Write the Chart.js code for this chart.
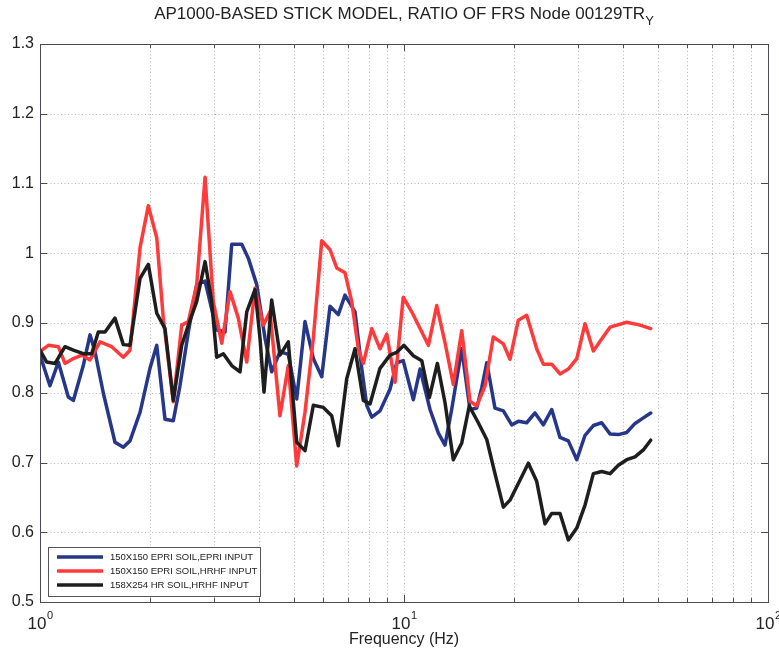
<!DOCTYPE html>
<html>
<head>
<meta charset="utf-8">
<script src="https://cdn.jsdelivr.net/npm/chart.js@4.4.1/dist/chart.umd.min.js"></script>
<style>
  html, body { margin: 0; padding: 0; background: #fff; }
  #wrap { width: 779px; height: 653px; }
</style>
</head>
<body>
<div id="wrap"><canvas id="frs" width="779" height="653"></canvas></div>
<script>
// Ratio of floor response spectra, node 00129, TR-Y direction
const seriesNames = [
  '150X150 EPRI SOIL,EPRI INPUT',
  '150X150 EPRI SOIL,HRHF INPUT',
  '158X254 HR SOIL,HRHF INPUT'
];

const freqEpri = [1.00,1.065,1.123,1.196,1.235,1.315,1.372,1.416,1.492,1.607,1.694,1.767,1.883,2.005,2.093,2.205,2.324,2.424,2.556,2.695,2.841,3.058,3.223,3.363,3.583,3.735,3.939,4.151,4.330,4.564,4.810,5.073,5.346,5.635,5.943,6.263,6.600,6.885,7.336,7.654,7.900,8.154,8.592,9.152,9.55,9.95,10.61,11.07,11.79,12.43,12.96,13.52,14.41,15.18,15.84,16.35,16.88,17.78,18.75,19.77,20.61,21.73,22.90,24.14,25.46,26.83,28.28,29.83,31.43,33.13,34.92,36.81,38.80,40.91,43.12,45.45,47.62];
const ratioEpri = [0.854,0.81,0.844,0.794,0.789,0.839,0.883,0.859,0.80,0.729,0.722,0.731,0.772,0.835,0.868,0.762,0.760,0.81,0.887,0.955,0.96,0.89,0.887,1.013,1.013,0.993,0.955,0.878,0.83,0.859,0.855,0.791,0.902,0.849,0.823,0.924,0.912,0.94,0.916,0.835,0.782,0.765,0.774,0.805,0.843,0.846,0.79,0.834,0.776,0.742,0.725,0.776,0.863,0.776,0.778,0.807,0.843,0.778,0.774,0.754,0.759,0.757,0.771,0.754,0.776,0.736,0.731,0.704,0.739,0.753,0.757,0.741,0.74,0.743,0.756,0.764,0.771];

const freqHrhf = [1.00,1.054,1.123,1.171,1.235,1.302,1.372,1.462,1.574,1.694,1.767,1.883,1.984,2.093,2.181,2.324,2.451,2.556,2.695,2.841,2.993,3.157,3.327,3.506,3.698,3.897,4.107,4.284,4.564,4.810,5.073,5.346,5.635,5.943,6.263,6.534,6.885,7.183,7.490,7.732,8.154,8.592,8.966,9.447,9.95,10.50,11.07,11.67,12.30,12.96,13.66,14.41,15.18,15.84,16.70,17.59,18.75,19.55,20.61,21.73,23.15,24.14,25.46,26.83,28.28,29.83,31.43,33.13,34.92,36.81,40.91,44.51,47.62];
const ratioHrhf = [0.859,0.868,0.866,0.842,0.849,0.854,0.847,0.873,0.866,0.851,0.861,1.008,1.068,1.022,0.907,0.787,0.897,0.902,0.955,1.109,0.93,0.871,0.945,0.907,0.844,0.95,0.897,0.916,0.767,0.839,0.695,0.772,0.878,1.018,1.005,0.979,0.972,0.931,0.863,0.842,0.892,0.863,0.884,0.815,0.937,0.916,0.892,0.868,0.925,0.872,0.812,0.889,0.788,0.781,0.81,0.88,0.87,0.848,0.904,0.911,0.863,0.841,0.841,0.827,0.834,0.849,0.899,0.86,0.877,0.894,0.901,0.897,0.892];

const freqHr = [1.00,1.043,1.100,1.171,1.235,1.315,1.387,1.446,1.509,1.607,1.694,1.767,1.883,1.984,2.093,2.205,2.324,2.451,2.556,2.695,2.841,2.962,3.058,3.189,3.363,3.544,3.698,3.897,4.022,4.125,4.330,4.564,4.810,5.073,5.346,5.635,6.003,6.331,6.600,6.960,7.336,7.732,8.066,8.592,9.152,9.55,10.0,10.61,11.19,11.74,12.35,12.96,13.66,14.41,15.11,16.00,16.88,17.78,18.75,19.55,20.61,21.96,23.15,24.40,25.46,26.83,28.28,29.83,31.43,33.13,34.92,36.81,38.80,40.91,43.12,45.45,47.62];
const ratioHr = [0.861,0.844,0.842,0.866,0.861,0.856,0.856,0.887,0.887,0.907,0.869,0.868,0.964,0.984,0.914,0.892,0.789,0.868,0.897,0.931,0.988,0.931,0.851,0.856,0.839,0.83,0.916,0.948,0.878,0.801,0.933,0.854,0.873,0.729,0.717,0.782,0.779,0.767,0.724,0.82,0.863,0.789,0.784,0.835,0.854,0.858,0.868,0.853,0.846,0.793,0.842,0.786,0.704,0.728,0.781,0.757,0.733,0.684,0.636,0.646,0.67,0.699,0.673,0.612,0.627,0.627,0.589,0.606,0.639,0.684,0.687,0.684,0.696,0.704,0.708,0.718,0.732];

const yTickValues = [0.5, 0.6, 0.7, 0.8, 0.9, 1.0, 1.1, 1.2, 1.3];
const xGridValues = [1,2,3,4,5,6,7,8,9,10,20,30,40,50,60,70,80,90,100];
const xDecadeExponents = [0, 1, 2];

const colors = ['#26378a', '#ff3a3a', '#1e1e1e'];

function pts(xs, ys) { return xs.map((x, i) => ({ x: x, y: ys[i] })); }

const FONT = "'Liberation Sans', Arial, Helvetica, sans-serif";
const INK = '#222';

const decorPlugin = {
  id: 'frsDecor',
  beforeDraw(chart) {
    const ctx = chart.ctx;
    ctx.save();
    ctx.fillStyle = '#fff';
    ctx.fillRect(0, 0, chart.width, chart.height);
    ctx.restore();
  },
  beforeDatasetsDraw(chart) {
    const ctx = chart.ctx, a = chart.chartArea;
    const xs = chart.scales.x, ys = chart.scales.y;
    ctx.save();
    ctx.strokeStyle = '#b9b9b9';
    ctx.lineWidth = 1;
    ctx.setLineDash([1, 2.5]);
    xGridValues.forEach(v => {
      const px = Math.round(xs.getPixelForValue(v)) + 0.5;
      ctx.beginPath(); ctx.moveTo(px, a.top); ctx.lineTo(px, a.bottom); ctx.stroke();
    });
    yTickValues.forEach(v => {
      const py = Math.round(ys.getPixelForValue(v)) + 0.5;
      ctx.beginPath(); ctx.moveTo(a.left, py); ctx.lineTo(a.right, py); ctx.stroke();
    });
    ctx.restore();
  },
  afterDatasetsDraw(chart) {
    const ctx = chart.ctx, a = chart.chartArea;
    const xs = chart.scales.x, ys = chart.scales.y;
    ctx.save();
    // axes box
    ctx.strokeStyle = '#4a4a55';
    ctx.lineWidth = 1;
    ctx.strokeRect(Math.round(a.left) + 0.5, Math.round(a.top) + 0.5,
                   Math.round(a.right - a.left), Math.round(a.bottom - a.top));
    // inward tick marks
    xGridValues.forEach(v => {
      const px = Math.round(xs.getPixelForValue(v)) + 0.5;
      const len = xDecadeExponents.some(e => Math.pow(10, e) === v) ? 7 : 4;
      ctx.beginPath();
      ctx.moveTo(px, a.bottom); ctx.lineTo(px, a.bottom - len);
      ctx.moveTo(px, a.top); ctx.lineTo(px, a.top + len);
      ctx.stroke();
    });
    yTickValues.forEach(v => {
      const py = Math.round(ys.getPixelForValue(v)) + 0.5;
      ctx.beginPath();
      ctx.moveTo(a.left, py); ctx.lineTo(a.left + 7, py);
      ctx.moveTo(a.right, py); ctx.lineTo(a.right - 7, py);
      ctx.stroke();
    });

    // decade labels 10^n
    ctx.fillStyle = INK;
    ctx.textBaseline = 'alphabetic';
    xDecadeExponents.forEach(e => {
      const px = xs.getPixelForValue(Math.pow(10, e));
      ctx.font = '17px ' + FONT;
      const wBase = ctx.measureText('10').width;
      ctx.font = '11px ' + FONT;
      const wExp = ctx.measureText(String(e)).width;
      const x0 = px - (wBase + wExp) / 2;
      ctx.font = '17px ' + FONT;
      ctx.textAlign = 'left';
      ctx.fillText('10', x0, a.bottom + 27);
      ctx.font = '11px ' + FONT;
      ctx.fillText(String(e), x0 + wBase + 0.5, a.bottom + 17);
    });

    // x-axis title
    ctx.font = '16px ' + FONT;
    ctx.textAlign = 'center';
    ctx.fillText('Frequency (Hz)', (a.left + a.right) / 2, a.bottom + 42);

    // chart title with subscript
    const mainTitle = 'AP1000-BASED STICK MODEL, RATIO OF FRS Node 00129TR';
    ctx.font = '17px ' + FONT;
    const wMain = ctx.measureText(mainTitle).width;
    ctx.font = '13px ' + FONT;
    const wSub = ctx.measureText('Y').width;
    const tx = (a.left + a.right) / 2 - (wMain + wSub) / 2;
    ctx.textAlign = 'left';
    ctx.font = '17px ' + FONT;
    ctx.fillText(mainTitle, tx, 19);
    ctx.font = '13px ' + FONT;
    ctx.fillText('Y', tx + wMain, 25);

    // legend box
    const lx = 48, ly = 547, lw = 212, lh = 49;
    ctx.fillStyle = '#fff';
    ctx.fillRect(lx, ly, lw, lh);
    ctx.strokeStyle = '#555';
    ctx.lineWidth = 1;
    ctx.strokeRect(lx + 0.5, ly + 0.5, lw, lh);
    const rows = [557, 571, 585];
    chart.data.datasets.forEach((ds, i) => {
      ctx.strokeStyle = ds.borderColor;
      ctx.lineWidth = 3.5;
      ctx.beginPath(); ctx.moveTo(57, rows[i]); ctx.lineTo(103, rows[i]); ctx.stroke();
      ctx.fillStyle = INK;
      ctx.font = '9.5px ' + FONT;
      ctx.textBaseline = 'middle';
      ctx.textAlign = 'left';
      ctx.fillText(ds.label, 110, rows[i] + 0.5);
    });
    ctx.restore();
  }
};

const datasets = [
  { label: seriesNames[0], data: pts(freqEpri, ratioEpri), borderColor: colors[0], order: 3 },
  { label: seriesNames[1], data: pts(freqHrhf, ratioHrhf), borderColor: colors[1], order: 2 },
  { label: seriesNames[2], data: pts(freqHr, ratioHr), borderColor: colors[2], order: 1 }
].map(d => Object.assign(d, {
  borderWidth: 3.5, pointRadius: 0, fill: false, tension: 0,
  borderJoinStyle: 'round', borderCapStyle: 'round'
}));

new Chart(document.getElementById('frs'), {
  type: 'line',
  data: { datasets: datasets },
  plugins: [decorPlugin],
  options: {
    responsive: false,
    animation: false,
    devicePixelRatio: 1,
    layout: { padding: { top: 44, right: 11, left: 0, bottom: 0 } },
    plugins: { legend: { display: false }, title: { display: false }, tooltip: { enabled: false } },
    scales: {
      x: {
        type: 'logarithmic', min: 1, max: 100,
        grid: { display: false, drawTicks: false },
        border: { display: false },
        ticks: { display: false },
        afterFit: s => { s.height = 51; }
      },
      y: {
        type: 'linear', min: 0.5, max: 1.3,
        grid: { display: false, drawTicks: false },
        border: { display: false },
        afterBuildTicks: s => { s.ticks = yTickValues.map(v => ({ value: v })); },
        ticks: {
          padding: 6,
          color: INK,
          font: { family: FONT, size: 16 },
          callback: v => String(Math.round(v * 10) / 10)
        },
        afterFit: s => { s.width = 40; }
      }
    }
  }
});
</script>
</body>
</html>
